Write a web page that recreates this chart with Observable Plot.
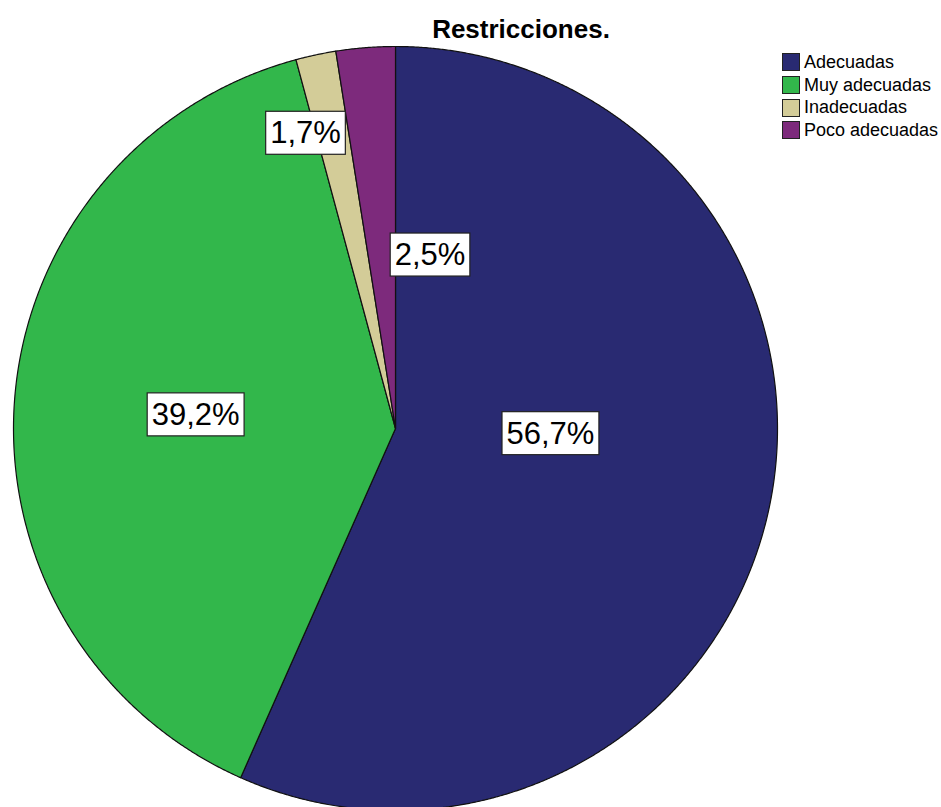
<!DOCTYPE html>
<html><head><meta charset="utf-8">
<script src="https://cdn.jsdelivr.net/npm/d3@7"></script>
<script src="https://cdn.jsdelivr.net/npm/@observablehq/plot@0.6"></script>
<style>
body{margin:0;background:#fff;}
#chart{position:relative;width:941px;height:807px;overflow:hidden;font-family:Arial,"Liberation Sans",sans-serif;}
#title{position:absolute;left:371px;width:300px;top:14px;text-align:center;font-weight:bold;font-size:26px;color:#000;}
#legend{position:absolute;left:782px;top:51px;font-size:18px;color:#000;}
#legend .row{display:flex;align-items:center;height:22.7px;white-space:nowrap;}
#legend .sw{width:16px;height:16px;border:1px solid #222;margin-right:4px;box-sizing:content-box;}
</style>
</head><body>
<div id="chart"><div id="title"></div><div id="legend"></div></div>
<script>
// ---- data ----
const categories = ["Adecuadas", "Muy adecuadas", "Inadecuadas", "Poco adecuadas"];
const percents = [56.7, 39.2, 1.7, 2.5];
const labels = ["56,7%", "39,2%", "1,7%", "2,5%"];
const title = "Restricciones.";

// ---- styles ----
const colors = ["#292a72", "#32b74b", "#d3cc98", "#7d2a7c"];
const labelRadius = [0.42, 0.53, 0.79, 0.45];       // fraction of radius at mid-angle
const labelShift = [[-2, -28], [2, 2], [-27, 0], [48, -2]]; // px nudges
const R = 382;

// slices clockwise from 12 o'clock
const arcs = d3.pie().sort(null).value(d => d.v)(categories.map((k, i) => ({k, v: percents[i]})));
const pts = [];
arcs.forEach(a => {
  const key = a.data.k;
  pts.push({key, x: 0, y: 0});
  const n = Math.max(4, Math.ceil((a.endAngle - a.startAngle) / 0.004));
  for (let j = 0; j <= n; j++) {
    const t = a.startAngle + (a.endAngle - a.startAngle) * j / n;
    pts.push({key, x: Math.sin(t), y: Math.cos(t)});
  }
});
const labelData = arcs.map((a, i) => {
  const m = (a.startAngle + a.endAngle) / 2;
  const f = labelRadius[i];
  return {
    label: labels[i],
    x: f * Math.sin(m) + labelShift[i][0] / R,
    y: f * Math.cos(m) - labelShift[i][1] / R
  };
});

const plot = Plot.plot({
  width: 941, height: 807, margin: 0,
  style: {background: "transparent", fontFamily: "Arial, 'Liberation Sans', sans-serif"},
  x: {domain: [-1, 1], range: [395 - R, 395 + R], axis: null},
  y: {domain: [-1, 1], range: [428 + R, 428 - R], axis: null},
  color: {domain: categories, range: colors},
  marks: [
    Plot.line(pts, {x: "x", y: "y", z: "key", fill: "key", stroke: "#111", strokeWidth: 1.2, curve: "linear-closed"}),
    Plot.text(labelData, {x: "x", y: "y", text: "label", fontSize: 31, fill: "#000"})
  ]
});
const chart = document.getElementById("chart");
chart.insertBefore(plot, chart.firstChild);
plot.style.position = "absolute"; plot.style.left = "0"; plot.style.top = "0";

// boxes behind percentage labels
const svgRoot = plot.tagName.toLowerCase() === "svg" ? plot : plot.querySelector("svg");
Array.from(svgRoot.querySelectorAll("text"))
  .filter(t => labels.includes(t.textContent.trim()))
  .forEach(t => {
    const b = t.getBBox();
    const px = 4.5, py = 4;
    const ns = "http://www.w3.org/2000/svg";
    const r = document.createElementNS(ns, "rect");
    r.setAttribute("x", b.x - px);
    r.setAttribute("y", b.y - py);
    r.setAttribute("width", b.width + 2 * px);
    r.setAttribute("height", b.height + 2 * py);
    const tr = t.getAttribute("transform");
    if (tr) r.setAttribute("transform", tr);
    r.setAttribute("fill", "#fff");
    r.setAttribute("stroke", "#222");
    r.setAttribute("stroke-width", "1.2");
    t.parentNode.insertBefore(r, t);
  });

document.getElementById("title").textContent = title;
const legend = d3.select("#legend");
categories.forEach((c, i) => {
  const row = legend.append("div").attr("class", "row");
  row.append("div").attr("class", "sw").style("background", colors[i]);
  row.append("span").text(c);
});
</script>
</body></html>
